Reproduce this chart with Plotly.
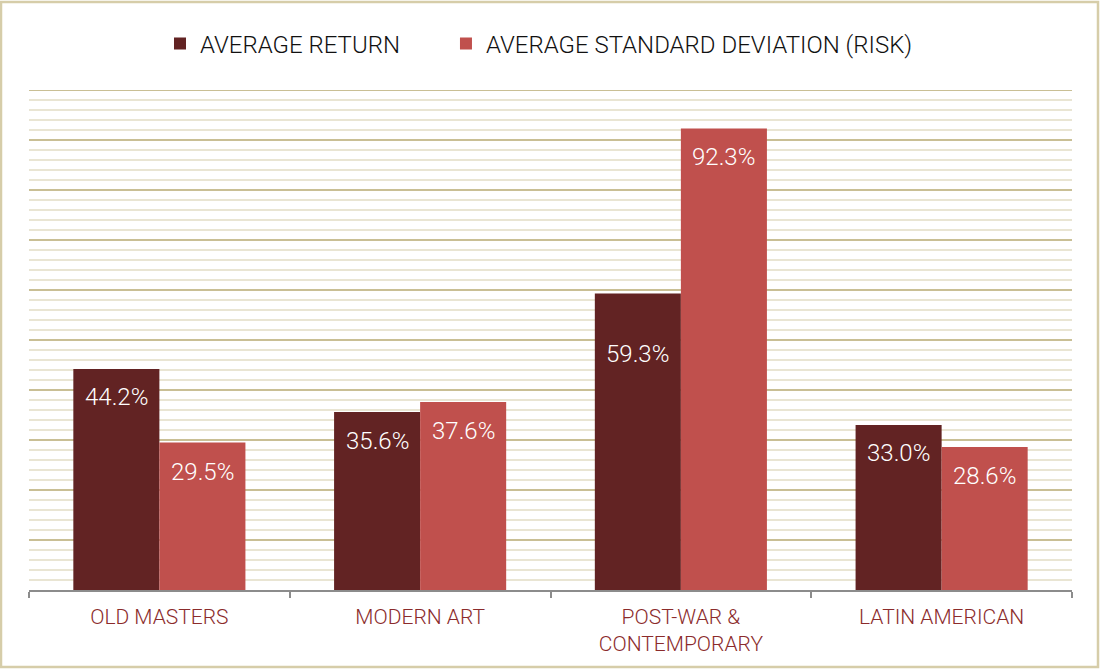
import plotly.graph_objects as go

categories = ["OLD MASTERS", "MODERN ART", "POST-WAR &<br>CONTEMPORARY", "LATIN AMERICAN"]
avg_return = [44.2, 35.6, 59.3, 33.0]
avg_risk = [29.5, 37.6, 92.3, 28.6]
series_names = ["AVERAGE RETURN", "AVERAGE STANDARD DEVIATION (RISK)"]

# label vertical offsets (px below bar top), style only
return_label_shift = [28, 29, 60, 28]
risk_label_shift = [29, 29, 28, 29]
LEGEND_PAD = "&nbsp;" * 7

DARK = "#622323"
LIGHT = "#c0504d"
FONT = "Roboto"

fig = go.Figure()
fig.add_bar(x=categories, y=avg_return, name=series_names[0] + LEGEND_PAD, marker_color=DARK,
            marker_line_width=0)
fig.add_bar(x=categories, y=avg_risk, name=series_names[1], marker_color=LIGHT,
            marker_line_width=0)

annotations = []
for i, c in enumerate(categories):
    for vals, shifts, xs in ((avg_return, return_label_shift, -43), (avg_risk, risk_label_shift, 43)):
        annotations.append(dict(x=c, y=vals[i], xref="x", yref="y", text=f"{vals[i]:.1f}%",
                                showarrow=False, xshift=xs, yshift=-shifts[i], yanchor="middle",
                                font=dict(family=FONT, size=24, color="white", weight=300)))

shapes = []
for v in range(2, 101, 2):
    major = (v % 10 == 0)
    shapes.append(dict(type="line", xref="paper", yref="y", x0=0, x1=1, y0=v, y1=v,
                       line=dict(color="#c9bf95" if major else "#e2dcc4", width=2 if major else 1.5),
                       layer="below"))
# border
shapes.append(dict(type="rect", xref="paper", yref="paper", x0=-28/1043, x1=1+26/1043,
                   y0=-77/500, y1=1+88/500, line=dict(color="#d6cda9", width=2.5)))

fig.update_layout(
    width=1100, height=669,
    margin=dict(l=29, r=28, t=90, b=79, autoexpand=False),
    paper_bgcolor="white", plot_bgcolor="white",
    barmode="group", bargap=0.34, bargroupgap=0,
    font=dict(family=FONT, weight=300),
    legend=dict(orientation="h", x=(160 - 29) / 1043, xanchor="left", y=1+46/500, yanchor="middle",
                bgcolor="rgba(0,0,0,0)",
                font=dict(size=24, color="#111", family=FONT, weight=300),
                traceorder="normal", itemwidth=30),
    xaxis=dict(showgrid=False, showline=True, linecolor="#8c8c8c", linewidth=1.5,
               ticks="outside", tickson="boundaries", ticklen=6, tickcolor="#8c8c8c",
               tickwidth=1.5, ticklabelstandoff=7,
               tickfont=dict(size=21, color="#8b2b2b", family=FONT, weight=300)),
    yaxis=dict(range=[0, 100], showgrid=False, showticklabels=False, zeroline=False,
               fixedrange=True),
    shapes=shapes, annotations=annotations, showlegend=True,
)

fig.write_html("out.html")
